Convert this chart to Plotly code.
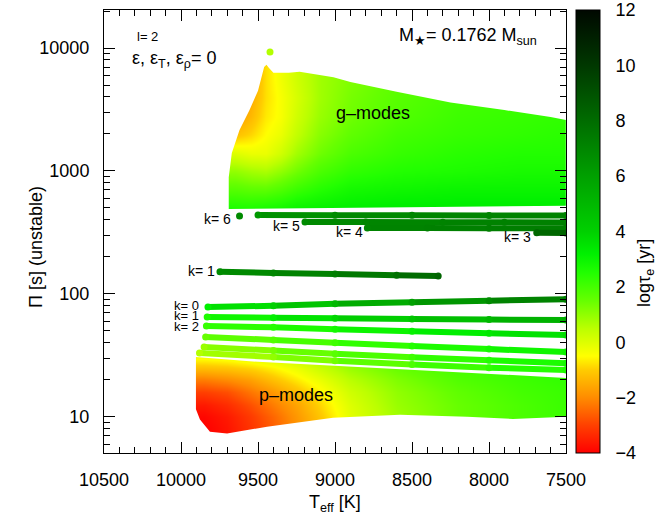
import numpy as np
import plotly.graph_objects as go
from plotly.colors import sample_colorscale

# ---------------- colour palette for log(tau_e) ----------------
TAU_RANGE = [-4, 12]
pal_tau = [-4, -3, -2, -1, -0.5, 0.5, 1.5, 2.5, 3.2, 4, 6, 8, 10, 12]
pal_col = ["rgb(255,0,0)", "rgb(255,64,0)", "rgb(255,140,0)", "rgb(255,204,0)",
           "rgb(255,255,0)", "rgb(187,255,0)", "rgb(102,255,0)", "rgb(34,255,0)",
           "rgb(0,240,0)", "rgb(0,208,0)", "rgb(0,160,0)", "rgb(0,108,0)",
           "rgb(0,56,0)", "rgb(0,8,0)"]
cbar_ticks = [-4, -2, 0, 2, 4, 6, 8, 10, 12]

# ---------------- axes ----------------
x_ticks = [10500, 10000, 9500, 9000, 8500, 8000, 7500]
y_ticks = [10, 100, 1000, 10000]

# ---------------- g-mode dense band ----------------
g_teff = [9750, 9650, 9550, 9450, 9350, 9250, 9100, 8900, 8600, 8200, 7800, 7450]
g_period = [420, 500, 700, 1000, 1400, 2000, 2800, 4000, 5600, 8000]
g_logtau = [
    [2.8, 2.8, 2.8, 2.9, 3.0, 3.1, 3.2, 3.3, 3.4, 3.4, 3.4, 3.4],
    [2.6, 2.6, 2.6, 2.7, 2.8, 3.0, 3.1, 3.2, 3.3, 3.3, 3.3, 3.3],
    [1.8, 1.8, 1.7, 1.7, 1.9, 2.2, 2.5, 2.8, 2.9, 3.0, 3.0, 3.0],
    [1.0, 1.0, 0.8, 0.7, 1.0, 1.4, 1.9, 2.3, 2.5, 2.6, 2.7, 2.7],
    [0.0, 0.0, -0.2, -0.2, 0.2, 0.8, 1.4, 1.9, 2.2, 2.4, 2.5, 2.5],
    [-1.2, -1.2, -0.9, -0.5, -0.2, 0.4, 1.1, 1.6, 2.0, 2.2, 2.3, 2.4],
    [-1.8, -1.8, -1.3, -0.7, -0.4, 0.2, 0.9, 1.4, 1.8, 2.1, 2.2, 2.3],
    [-2.0, -2.0, -1.5, -0.8, -0.4, 0.1, 0.8, 1.3, 1.7, 2.0, 2.1, 2.2],
    [-2.0, -2.0, -1.6, -0.8, -0.3, 0.2, 0.8, 1.2, 1.6, 1.9, 2.0, 2.1],
    [-2.0, -2.0, -1.6, -0.8, -0.3, 0.2, 0.8, 1.2, 1.6, 1.9, 2.0, 2.1],
]
# outline of the g-mode band (left/top envelope) and its lower edge
g_env_teff = [9690, 9690, 9670, 9620, 9555, 9500, 9475, 9460, 9445, 9430, 9400,
              9300, 9230, 9010, 8900, 8600, 8250, 7900, 7600, 7500]
g_env_period = [490, 890, 1400, 2150, 3130, 4500, 5800, 7000, 7300, 6900, 6300,
                6300, 6400, 5800, 5300, 4400, 3600, 3130, 2750, 2600]
g_bot_teff = [9690, 7500]
g_bot_period = [490, 525]

# ---------------- p-mode dense band ----------------
p_teff = [9950, 9850, 9700, 9550, 9400, 9250, 9100, 8900, 8600, 8200, 7800, 7450]
p_period = [6.5, 8, 10, 12.5, 16, 20, 25, 32, 40]
p_logtau = [
    [-4.0, -4.0, -3.7, -3.2, -2.6, -1.9, -1.2, -0.2, 0.8, 1.5, 1.9, 2.2],
    [-4.0, -4.0, -3.7, -3.2, -2.6, -1.9, -1.2, -0.2, 0.8, 1.5, 1.9, 2.2],
    [-3.9, -3.9, -3.6, -3.1, -2.5, -1.8, -1.1, -0.1, 0.8, 1.5, 1.9, 2.2],
    [-3.6, -3.6, -3.3, -2.8, -2.2, -1.6, -0.9, 0.0, 0.9, 1.5, 1.9, 2.2],
    [-3.0, -3.0, -2.8, -2.3, -1.8, -1.2, -0.6, 0.2, 1.0, 1.6, 2.0, 2.2],
    [-2.2, -2.2, -2.0, -1.7, -1.2, -0.7, -0.2, 0.5, 1.2, 1.8, 2.1, 2.3],
    [-1.2, -1.2, -1.1, -0.9, -0.6, -0.2, 0.3, 0.9, 1.5, 2.0, 2.2, 2.4],
    [-0.2, -0.2, -0.1, 0.1, 0.3, 0.6, 0.9, 1.3, 1.8, 2.2, 2.4, 2.5],
    [0.5, 0.5, 0.6, 0.8, 1.0, 1.2, 1.4, 1.7, 2.0, 2.3, 2.5, 2.6],
]
p_top_teff = [7500, 8000, 8500, 9000, 9500, 9903]
p_top_period = [20.7, 22.3, 24, 25.8, 28, 30.6]
p_bot_teff = [9903, 9903, 9877, 9812, 9701, 9441, 9013, 8578, 8143, 7844, 7500]
p_bot_period = [30.6, 11.5, 9.5, 7.55, 7.3, 8.3, 9.8, 10.4, 10.0, 9.6, 10.0]

# ---------------- isolated mode tracks ----------------
gk6_teff = [9500, 9000, 8500, 8000, 7500]
gk6_period = [438, 437, 436, 435, 434]
gk6_tau = [6.3, 6.8, 7.0, 7.1, 7.1]
gk6_dot_teff = [9620]
gk6_dot_period = [430]
gk6_dot_tau = [6.8]
gk5_teff = [9195, 8800, 8300, 7900, 7500]
gk5_period = [385, 384, 383, 382, 381]
gk5_tau = [6.8, 7.0, 7.1, 7.2, 7.2]
gk4_teff = [8790, 8400, 8000, 7500]
gk4_period = [344, 343, 342, 341]
gk4_tau = [7.0, 7.2, 7.3, 7.3]
gk3_teff = [7690, 7500]
gk3_period = [314, 313]
gk3_tau = [8.2, 8.3]
gk1_teff = [9747, 9400, 9000, 8600, 8330]
gk1_period = [151, 148, 145, 142, 140]
gk1_tau = [6.8, 7.0, 7.3, 7.8, 8.3]

pk0_teff = [9825, 9400, 9000, 8500, 8000, 7500]
pk0_period = [78, 80, 83, 85.5, 88, 90.5]
pk0_tau = [3.2, 4.0, 5.0, 6.0, 6.8, 7.4]
pk1_teff = [9830, 9400, 9000, 8500, 8000, 7500]
pk1_period = [64.7, 64, 63.3, 62.5, 61.8, 61.2]
pk1_tau = [2.6, 3.2, 3.8, 4.4, 5.0, 5.5]
pk2_teff = [9835, 9400, 9000, 8500, 8000, 7500]
pk2_period = [54.7, 53.4, 51.5, 49.6, 47.8, 46.3]
pk2_tau = [2.2, 2.5, 2.8, 3.1, 3.4, 3.7]
pk3_teff = [9840, 9400, 9000, 8500, 8000, 7500]
pk3_period = [44.5, 42.2, 40, 37.6, 35.5, 33.6]
pk3_tau = [1.5, 1.8, 2.1, 2.5, 2.8, 3.0]
pk4_teff = [9850, 9400, 9000, 8500, 8000, 7500]
pk4_period = [36.9, 34.6, 32.6, 30.5, 28.8, 27.3]
pk4_tau = [0.9, 1.3, 1.7, 2.1, 2.5, 2.8]
pk5_teff = [9880, 9400, 9000, 8500, 8000, 7500]
pk5_period = [33, 30.6, 28.6, 26.6, 25.1, 24]
pk5_tau = [0.6, 1.0, 1.4, 1.9, 2.3, 2.6]

peak_dot_teff = [9422]
peak_dot_period = [9270]
peak_dot_tau = [0.6]

# =====================================================================
X_RANGE = [10500, 7500]
Y_RANGE = [np.log10(5.07), np.log10(20400)]
FONT = "Liberation Sans, Arial, Helvetica, sans-serif"
L, R, T, B, W, H = 104, 92, 10, 65, 658, 518
PW, PH = W - L - R, H - T - B

span = TAU_RANGE[1] - TAU_RANGE[0]
colorscale = [[(v - TAU_RANGE[0]) / span, c] for v, c in zip(pal_tau, pal_col)]


def tau_color(v):
    return sample_colorscale(colorscale, [(v - TAU_RANGE[0]) / span])[0]


def px(x):
    return (x - L) / PW


def py(y):
    return 1 - (y - T) / PH


fig = go.Figure()

# dense bands as smooth colour maps
for tx, pp, zz in [(g_teff, g_period, g_logtau), (p_teff, p_period, p_logtau)]:
    fig.add_trace(go.Heatmap(x=tx, y=pp, z=zz, coloraxis="coloraxis",
                             zsmooth="best", hoverinfo="skip"))

# white masks outside the band outlines
XL, XR = 10700, 7300
g_mask_x = [XL, XL, XR, XR, 7500] + g_env_teff[::-1][1:] + g_bot_teff[1:] + [XR, XR]
g_mask_y = [200, 40000, 40000, g_env_period[-1], g_env_period[-1]] + g_env_period[::-1][1:] \
    + g_bot_period[1:] + [g_bot_period[-1], 200]
p_mask_x = [XL, XL, XR, XR] + p_top_teff + p_bot_teff + [XR, XR]
p_mask_y = [2, 100, 100, p_top_period[0]] + p_top_period + p_bot_period + [p_bot_period[-1], 2]
for mx, my in [(g_mask_x, g_mask_y), (p_mask_x, p_mask_y)]:
    fig.add_trace(go.Scatter(x=mx, y=my, mode="lines", fill="toself",
                             fillcolor="white", line=dict(width=0, color="white"),
                             hoverinfo="skip", showlegend=False))


def add_track(teff, period, tau, width=6):
    for i in range(len(teff) - 1):
        fig.add_trace(go.Scatter(x=teff[i:i + 2], y=period[i:i + 2], mode="lines",
                                 line=dict(color=tau_color((tau[i] + tau[i + 1]) / 2), width=width),
                                 hoverinfo="skip", showlegend=False))
    fig.add_trace(go.Scatter(x=teff, y=period, mode="markers",
                             marker=dict(size=width + 1, color=tau, coloraxis="coloraxis",
                                         line=dict(width=0)),
                             hoverinfo="skip", showlegend=False))


for trk in [(gk6_teff, gk6_period, gk6_tau), (gk6_dot_teff, gk6_dot_period, gk6_dot_tau),
            (gk5_teff, gk5_period, gk5_tau), (gk4_teff, gk4_period, gk4_tau),
            (gk3_teff, gk3_period, gk3_tau), (gk1_teff, gk1_period, gk1_tau),
            (pk5_teff, pk5_period, pk5_tau), (pk4_teff, pk4_period, pk4_tau),
            (pk3_teff, pk3_period, pk3_tau), (pk2_teff, pk2_period, pk2_tau),
            (pk1_teff, pk1_period, pk1_tau), (pk0_teff, pk0_period, pk0_tau),
            (peak_dot_teff, peak_dot_period, peak_dot_tau)]:
    add_track(*trk)

# ---------------- annotations ----------------
ann = []


def add_text(text, x, y, size, xanchor="center", ref="paper", angle=0):
    ann.append(dict(text=text, x=x, y=y, xref=ref, yref=ref, showarrow=False,
                    xanchor=xanchor, yanchor="middle", textangle=angle,
                    font=dict(family=FONT, size=size, color="black")))


def add_data_text(text, teff, period, size):
    ann.append(dict(text=text, x=teff, y=np.log10(period), xref="x", yref="y",
                    showarrow=False, xanchor="center", yanchor="middle",
                    font=dict(family=FONT, size=size, color="black")))


add_text("l= 2", px(135), py(37), 13, "left")
add_text("ε, ε<sub>T</sub>, ε<sub>ρ</sub>= 0", px(130), py(59), 18, "left")
add_text("M<sub>★</sub>= 0.1762 M<sub>sun</sub>", px(468), py(36), 18)
add_data_text("g–modes", 8753, 10 ** 3.472, 18)
add_data_text("p–modes", 9253, 10 ** 1.179, 18)
add_data_text("k= 6", 9766, 10 ** 2.610, 14)
add_data_text("k= 5", 9318, 10 ** 2.553, 14)
add_data_text("k= 4", 8909, 10 ** 2.504, 14)
add_data_text("k= 3", 7818, 10 ** 2.463, 14)
add_data_text("k= 1", 9870, 10 ** 2.187, 14)
add_data_text("k= 0", 9967, 10 ** 1.905, 13)
add_data_text("k= 1", 9967, 10 ** 1.821, 13)
add_data_text("k= 2", 9967, 10 ** 1.732, 13)
add_text("Π [s] (unstable)", px(36), py(247), 18, angle=-90)
add_text("T<sub>eff</sub> [K]", px(335), py(503), 18)
add_text("logτ<sub>e</sub> [yr]", px(645), py(273), 18, angle=-90)

# dashed grid lines across the colour bar
CB_X0, CB_X1 = px(576), px(600)
shapes = [dict(type="line", xref="paper", yref="paper", x0=CB_X0, x1=CB_X1,
               y0=(v - TAU_RANGE[0]) / span, y1=(v - TAU_RANGE[0]) / span,
               line=dict(color="rgba(0,0,0,0.55)", width=1, dash="6px,8px"), layer="above")
          for v in cbar_ticks[1:-1]]

minor_y = [m * 10 ** d for d in range(0, 5) for m in range(2, 10) if 5 <= m * 10 ** d <= 20400]

fig.update_layout(
    width=W, height=H, margin=dict(l=L, r=R, t=T, b=B, autoexpand=False),
    paper_bgcolor="white", plot_bgcolor="white",
    font=dict(family=FONT, size=18, color="black"),
    showlegend=False,
    annotations=ann, shapes=shapes,
    coloraxis=dict(
        cmin=TAU_RANGE[0], cmax=TAU_RANGE[1], colorscale=colorscale,
        colorbar=dict(x=CB_X0, xanchor="left", xref="paper", y=0.5, yanchor="middle",
                      len=1, lenmode="fraction", thickness=24, thicknessmode="pixels",
                      outlinewidth=1, outlinecolor="black", tickvals=cbar_ticks,
                      ticktext=[str(v).replace("-", "−") for v in cbar_ticks],
                      ticks="outside", ticklen=12, tickcolor="rgba(0,0,0,0)",
                      tickfont=dict(family=FONT, size=18, color="black"), xpad=0, ypad=0),
    ),
    xaxis=dict(range=X_RANGE, tickvals=x_ticks, ticktext=[str(v) for v in x_ticks],
               ticks="inside", ticklen=11, tickwidth=1, tickcolor="black",
               showline=True, linecolor="black", linewidth=1, mirror="ticks",
               showgrid=False, zeroline=False, ticklabelstandoff=10,
               minor=dict(dtick=100, ticks="inside", ticklen=6, tickcolor="black", showgrid=False),
               tickfont=dict(family=FONT, size=18, color="black")),
    yaxis=dict(type="log", range=Y_RANGE, tickvals=y_ticks, ticktext=[str(v) for v in y_ticks],
               ticks="inside", ticklen=11, tickwidth=1, tickcolor="black",
               showline=True, linecolor="black", linewidth=1, mirror="ticks",
               showgrid=False, zeroline=False, ticklabelstandoff=10,
               minor=dict(tickvals=minor_y, ticks="inside", ticklen=6, tickcolor="black", showgrid=False),
               tickfont=dict(family=FONT, size=18, color="black")),
)

fig.write_html("out.html", config={"displayModeBar": False},
               post_script="document.body.style.margin='0px';")
